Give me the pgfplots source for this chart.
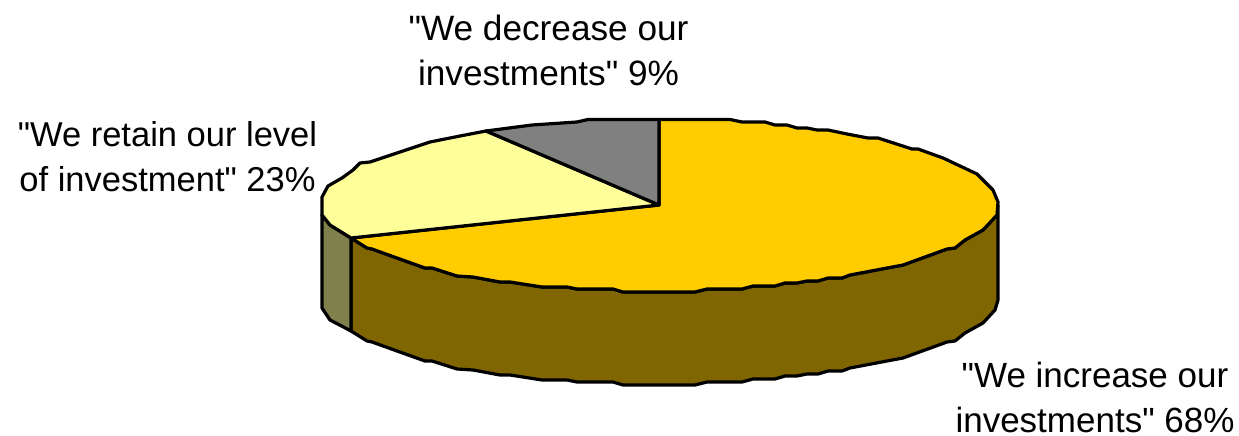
\documentclass[border=0pt]{standalone}
\usepackage{fontspec}
\newfontfamily\labelfont{Liberation Sans}
\usepackage{pgfplots}
\pgfplotsset{compat=1.18}
\definecolor{goldtop}{HTML}{FFCC00}
\definecolor{goldside}{HTML}{806600}
\definecolor{paletop}{HTML}{FFFF99}
\definecolor{paleside}{HTML}{80804D}
\definecolor{greytop}{HTML}{808080}
\tikzset{label text/.style={font=\labelfont\fontsize{#1}{45}\selectfont, align=center, inner sep=0pt, text=black}}
\begin{document}
\begin{tikzpicture}
\begin{axis}[
  width=1239pt, height=436pt, scale only axis,
  xmin=0, xmax=1239, ymin=0, ymax=436, y dir=reverse,
  hide axis, clip=false,
  every axis plot/.append style={no marks, sharp plot, draw=black, line width=3.2pt, line join=round},
]
% Outer wall of the 68% slice
\addplot[fill=goldside] coordinates {
 (351,238) (367,248) (372,249) (397,258) (425,268) (432,268) (457,276) (473,277) (500,282) (510,282) (542,287)
 (567,287) (577,289) (613,289) (623,292) (695,292) (707,289) (742,289) (753,286) (775,286) (785,283) (797,283)
 (807,281) (818,281) (828,278) (842,278) (850,275) (887,268) (903,265) (947,249) (955,248) (965,240) (983,230)
 (997,215) (998,205) (998,300) (995,310) (983,323) (965,333) (955,341) (947,342) (903,358) (887,361) (850,368)
 (842,371) (828,371) (818,374) (807,374) (797,376) (785,376) (775,379) (753,379) (742,382) (707,382) (695,385)
 (623,385) (613,382) (577,382) (567,380) (542,380) (510,375) (500,375) (473,370) (457,369) (432,361) (425,361)
 (397,351) (372,342) (367,341) (351,331)
} -- cycle;
% Outer wall of the 23% slice
\addplot[fill=paleside] coordinates {
 (322,215) (330,225) (351,238) (351,331) (330,320) (322,308)
} -- cycle;
% Top face: 68%
\addplot[fill=goldtop] coordinates {
 (659,205) (659,119.5) (730,119.5) (742,122) (765,122) (775,125) (787,125) (797,128) (807,128) (817,130) (828,130)
 (847,134) (868,138) (878,138) (912,149) (918,149) (943,158) (977,174) (993,190) (998,202) (997,215) (983,230)
 (965,240) (955,248) (947,249) (903,265) (887,268) (850,275) (842,278) (828,278) (818,281) (807,281) (797,283)
 (785,283) (775,286) (753,286) (742,289) (707,289) (695,292) (623,292) (613,289) (577,289) (567,287) (542,287)
 (510,282) (500,282) (473,277) (457,276) (432,268) (425,268) (397,258) (372,249) (367,248) (351,238)
} -- cycle;
% Top face: 23%
\addplot[fill=paletop] coordinates {
 (659,205) (351,238) (330,225) (322,215) (322,197) (328,186) (342,178) (353,170) (360,163) (370,162) (400,152)
 (430,142) (460,136) (486,131)
} -- cycle;
% Top face: 9%
\addplot[fill=greytop] coordinates {
 (659,205) (486,131) (532,125) (577,122) (588,119.5) (659,119.5)
} -- cycle;

\node[label text=35.2] at (axis cs:548.5,50) {"We decrease our\\investments" 9\%};
\node[label text=34.5] at (axis cs:167.5,157) {"We retain our level\\of investment" 23\%};
\node[label text=35] at (axis cs:1095,397) {"We increase our\\investments" 68\%};
\end{axis}
\pgfresetboundingbox
\path[use as bounding box] (0,0) rectangle (1239pt,436pt);
\end{tikzpicture}
\end{document}
